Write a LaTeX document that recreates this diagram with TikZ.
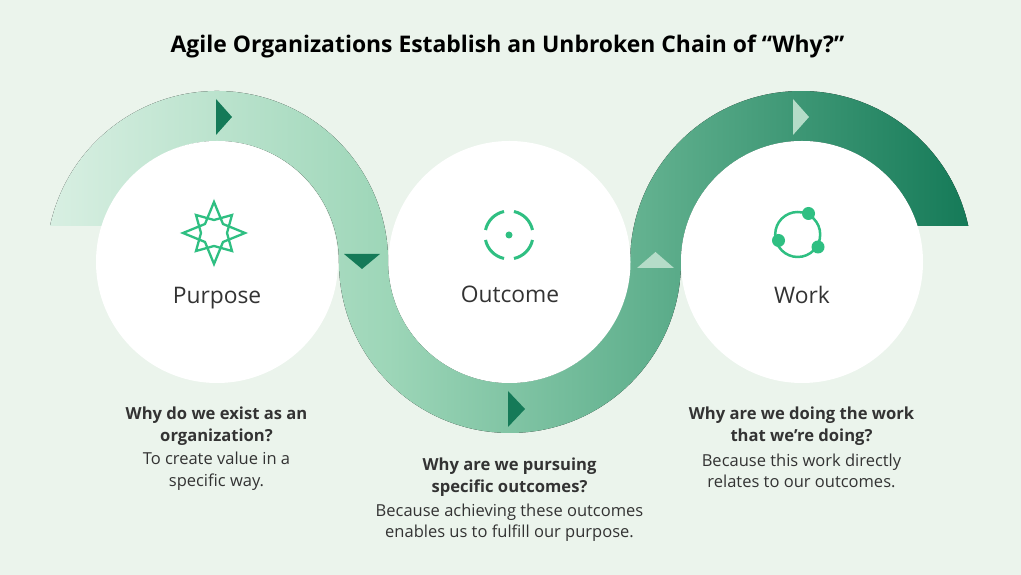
\documentclass[tikz,border=0pt]{standalone}
\usepackage{fontspec}
\setmainfont{Open Sans}
\definecolor{pagebg}{HTML}{EBF4EC}
\definecolor{icongreen}{HTML}{2FBF82}
\definecolor{darkgreen}{HTML}{157A58}
\definecolor{palegreen}{HTML}{B5DCC8}
\definecolor{textgray}{HTML}{333333}
\definecolor{bandA}{HTML}{D8EFE2}
\definecolor{bandB}{HTML}{9DD6B8}
\definecolor{bandC}{HTML}{65B391}
\definecolor{bandD}{HTML}{157A58}
\pgfdeclarehorizontalshading{bandshade}{100bp}{
  color(0bp)=(bandA);
  color(25bp)=(bandA);
  color(43.4bp)=(bandB);
  color(56.6bp)=(bandC);
  color(75bp)=(bandD);
  color(100bp)=(bandD)}
\begin{document}
\begin{tikzpicture}[x=1pt,y=1pt,line join=miter]
\tikzset{
    bigcircle/.style={circle,fill=white,minimum size=242pt,inner sep=0pt},
    title/.style={font=\bfseries\fontsize{22.9}{26}\selectfont,text=black},
    stage/.style={anchor=base,font=\fontsize{22.8}{28}\selectfont,text=textgray},
    question/.style={font=\bfseries\fontsize{16.6}{22}\selectfont,text=textgray,align=center},
    answer/.style={font=\fontsize{16.5}{21.5}\selectfont,text=textgray,align=center},
    icon/.style={draw=icongreen,line width=2.3pt}
}
\fill[pagebg] (0,0) rectangle (1021,575);
\useasboundingbox (0,0) rectangle (1021,575);

%% The band
\fill[shading=bandshade] (50,349) arc[start angle=167.84,end angle=0,radius=171]
  arc[start angle=180,end angle=360,radius=121]
  arc[start angle=180,end angle=12.16,radius=171]
  -- (917.5,349) arc[start angle=17.3,end angle=180,radius=121]
  arc[start angle=0,end angle=-180,radius=171]
  arc[start angle=0,end angle=162.7,radius=121] -- cycle;

%% Circles
\node[bigcircle] (purpose) at (217,313) {};
\node[bigcircle] (outcome) at (509.5,313) {};
\node[bigcircle] (work) at (802,313) {};

%% Arrow heads on the band
\fill[darkgreen] (216,476) -- (232,458) -- (216,440) -- cycle;
\fill[darkgreen] (344,321) -- (380,321) -- (362,306) -- cycle;
\fill[darkgreen] (508,184) -- (525,166) -- (508,148) -- cycle;
\fill[palegreen] (637,307) -- (674,307) -- (655.5,323) -- cycle;
\fill[palegreen] (793,476) -- (809,458) -- (793,440) -- cycle;

%% Icons
\draw[icon] (214,373) -- (223,351) -- (245,342) -- (223,333) -- (214,311)
  -- (205,333) -- (183,342) -- (205,351) -- cycle;
\draw[icon] (232,360) -- (227,342) -- (232,324) -- (214,329) -- (196,324)
  -- (201,342) -- (196,360) -- (214,355) -- cycle;

\draw[icon,line width=3pt] (509,340) ++(12:24) arc[start angle=12,end angle=78,radius=24];
\draw[icon,line width=3pt] (509,340) ++(102:24) arc[start angle=102,end angle=168,radius=24];
\draw[icon,line width=3pt] (509,340) ++(192:24) arc[start angle=192,end angle=258,radius=24];
\draw[icon,line width=3pt] (509,340) ++(282:24) arc[start angle=282,end angle=348,radius=24];
\fill[icongreen] (509,340) circle (3.5);

\draw[icon,line width=2.5pt] (797.7,340.5) circle (22.5);
\fill[icongreen] (808.5,361.5) circle (6.5);
\fill[icongreen] (778.5,334.5) circle (6.5);
\fill[icongreen] (818,328) circle (6.5);

%% Texts
\node[title] (heading) at (507.5,529) {Agile Organizations Establish an Unbroken Chain of “Why?”};
\node[stage] (purposelabel) at (217,271) {Purpose};
\node[stage] (outcomelabel) at (510,272) {Outcome};
\node[stage] (worklabel) at (802,271) {Work};

\node[question] (q1) at (216.5,148.5) {Why do we exist as an\\organization?};
\node[answer] (a1) at (216.5,104) {To create value in a\\specific way.};
\node[question] (q2) at (509.5,97.5) {Why are we pursuing\\specific outcomes?};
\node[answer] (a2) at (509.5,52.5) {Because achieving these outcomes\\enables us to fulfill our purpose.};
\node[question] (q3) at (801.5,148.5) {Why are we doing the work\\that we’re doing?};
\node[answer] (a3) at (801.5,104) {Because this work directly\\relates to our outcomes.};
\end{tikzpicture}
\end{document}
